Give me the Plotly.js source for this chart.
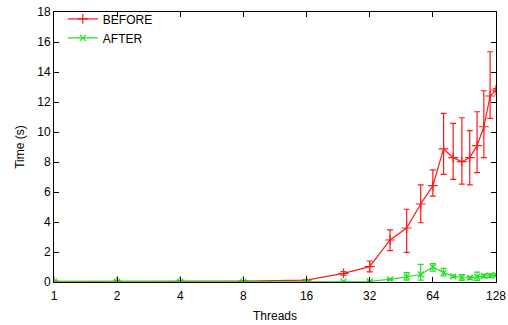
<!DOCTYPE html>
<html><head><meta charset="utf-8">
<script src="https://cdn.plot.ly/plotly-3.0.1.min.js"></script>
<style>html,body{margin:0;padding:0;background:#fff}#chart{width:508px;height:325px}</style>
</head><body><div id="chart"></div>
<script>
const threads = [1, 2, 4, 8, 16, 24, 32, 40, 48, 56, 64, 72, 80, 88, 96, 104, 112, 120, 128];
const beforeTime = [0.05, 0.05, 0.05, 0.06, 0.13, 0.58, 1.02, 2.8, 3.6, 5.2, 6.42, 8.87, 8.29, 8.02, 8.29, 9.09, 10.35, 12.4, 12.8];
const beforeErrPlus = [0.02, 0.02, 0.02, 0.02, 0.03, 0.12, 0.38, 0.67, 1.25, 1.27, 1.05, 2.37, 2.29, 2.93, 1.8, 2.26, 2.4, 2.95, 0.1];
const beforeErrMinus = [0.02, 0.02, 0.02, 0.02, 0.03, 0.12, 0.35, 0.71, 1.62, 1.25, 0.69, 1.69, 1.45, 1.49, 1.82, 1.8, 2.06, 1.49, 0.1];
const afterTime = [0.03, 0.03, 0.03, 0.03, 0.03, 0.04, 0.05, 0.18, 0.36, 0.5, 1.0, 0.63, 0.38, 0.3, 0.28, 0.36, 0.41, 0.42, 0.46];
const afterErrPlus = [0.02, 0.02, 0.02, 0.02, 0.02, 0.02, 0.03, 0.05, 0.26, 0.68, 0.22, 0.28, 0.08, 0.2, 0.1, 0.3, 0.12, 0.12, 0.08];
const afterErrMinus = [0.02, 0.02, 0.02, 0.02, 0.02, 0.02, 0.03, 0.05, 0.23, 0.37, 0.27, 0.23, 0.08, 0.2, 0.1, 0.25, 0.12, 0.12, 0.08];
const xTicks = [1, 2, 4, 8, 16, 32, 64, 128];
const yTicks = [0, 2, 4, 6, 8, 10, 12, 14, 16, 18];

const red = '#ff1a1a', green = '#22e022';
const traces = [
  {x: threads, y: beforeTime, name: 'BEFORE', type: 'scatter', mode: 'lines+markers',
   line: {color: red, width: 1.2},
   marker: {symbol: 'cross-thin', size: 7, color: red, line: {color: red, width: 1.2}},
   error_y: {type: 'data', array: beforeErrPlus, arrayminus: beforeErrMinus, visible: true, color: red, thickness: 1.2, width: 3}},
  {x: threads, y: afterTime, name: 'AFTER', type: 'scatter', mode: 'lines+markers',
   line: {color: green, width: 1.2},
   marker: {symbol: 'x-thin', size: 6, color: green, line: {color: green, width: 1.2}},
   error_y: {type: 'data', array: afterErrPlus, arrayminus: afterErrMinus, visible: true, color: green, thickness: 1.2, width: 3}}
];
const layout = {
  width: 508, height: 325,
  margin: {l: 54, r: 12, t: 12, b: 43, autoexpand: false},
  paper_bgcolor: '#fff', plot_bgcolor: '#fff',
  font: {family: 'Liberation Sans, Arial, sans-serif', size: 12, color: '#000'},
  showlegend: true,
  legend: {x: 0.02, y: 1.028, xanchor: 'left', yanchor: 'top', bgcolor: 'rgba(0,0,0,0)',
           font: {size: 12}, tracegroupgap: 0, itemwidth: 30},
  xaxis: {type: 'log', range: [0, Math.log10(128)], tickvals: xTicks, ticktext: xTicks.map(String),
          automargin: false,
          showgrid: false, zeroline: false, showline: true, linecolor: '#000', linewidth: 1,
          mirror: 'ticks', ticks: 'inside', ticklen: 5, tickcolor: '#000', ticklabelstandoff: 3,
          title: {text: 'Threads', font: {size: 12}, standoff: 9}},
  yaxis: {range: [0, 18], tickvals: yTicks, showgrid: false, zeroline: false, showline: true,
          automargin: false,
          linecolor: '#000', linewidth: 1, mirror: 'ticks', ticks: 'inside', ticklen: 5, tickcolor: '#000',
          title: {text: 'Time (s)', font: {size: 12}, standoff: 10}}
};
Plotly.newPlot('chart', traces, layout, {displayModeBar: false, staticPlot: true});
</script></body></html>
